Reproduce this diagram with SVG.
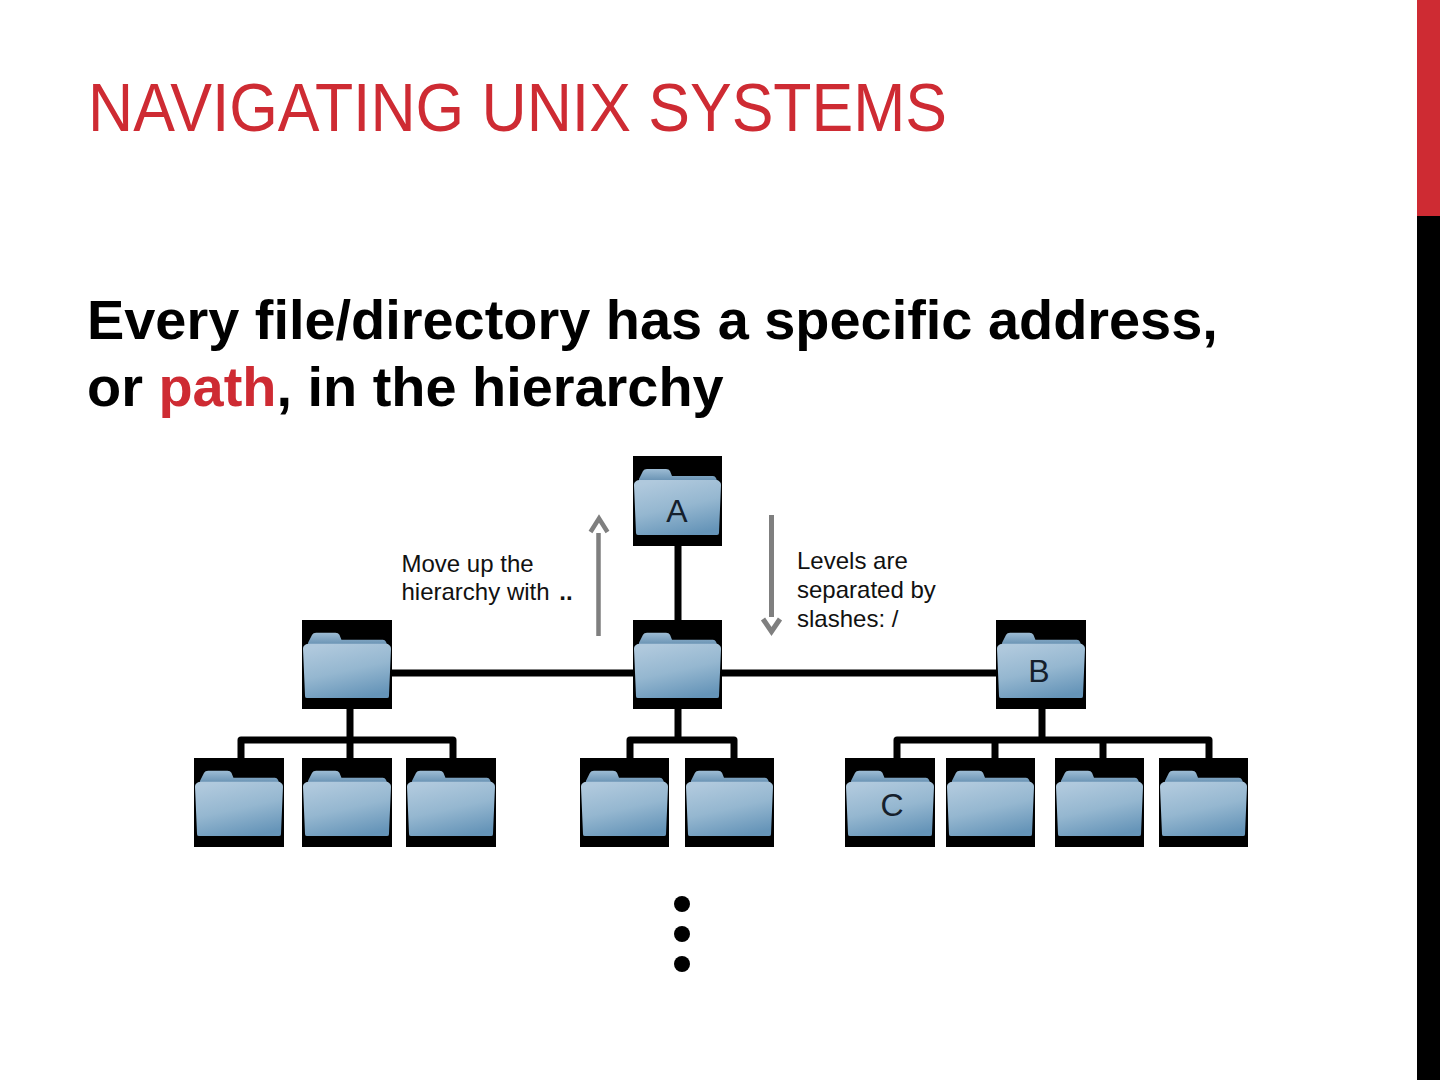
<svg xmlns="http://www.w3.org/2000/svg" width="1440" height="1080" viewBox="0 0 1440 1080">
<style>
.s{font-family:"Liberation Sans",Arial,sans-serif}
.t{font-family:"Liberation Sans Narrow","Liberation Sans",sans-serif;font-size:69px;fill:#ce2b33}
.h{font-size:55.9px;font-weight:700;fill:#000}
.n{font-size:24px;fill:#111}
.l{font-size:32px;fill:#15202c;text-anchor:middle}
.c{fill:none;stroke:#000;stroke-width:7;stroke-linejoin:round;stroke-linecap:round}
.a{fill:none;stroke:#7f7f7f;stroke-width:4.500}
.d{stroke-width:5}
</style>
<defs>
<linearGradient id="g" x1="0.3" y1="0" x2="0.65" y2="1"><stop offset="0" stop-color="#b0c9dd"/><stop offset="0.5" stop-color="#95b7d0"/><stop offset="1" stop-color="#6594b8"/></linearGradient>
<linearGradient id="b" x1="0" y1="0" x2="0" y2="1"><stop offset="0" stop-color="#9dbcd4"/><stop offset="1" stop-color="#5f8aad"/></linearGradient>
<symbol id="f" viewBox="0 0 89 90" preserveAspectRatio="none" overflow="visible">
<rect width="89" height="90" fill="#000"/>
<path d="M6 23 L10 15 Q11 13 14 13 L33 13 Q36 13 37 15 L39 20 L80 20 Q82 20 83 22 L85 27 L6 27Z" fill="url(#b)"/>
<path d="M6 24 L84 24 Q85 24 87 26 Q88 27 88 29 L86 77 Q86 79 84 79 L5 79 Q3 79 3 77 L1 29 Q1 27 2 26 Q4 24 6 24Z" fill="url(#g)"/>
</symbol>
</defs>
<rect width="1440" height="1080" fill="#fff"/>
<rect x="1417" width="23" height="1080" fill="#000"/>
<rect x="1417" width="23" height="216" fill="#ce2b33"/>
<text class="t" x="88" y="131" textLength="859" lengthAdjust="spacingAndGlyphs">NAVIGATING UNIX SYSTEMS</text>
<text class="s h" x="87" y="339">Every file/directory has a specific address,</text>
<text class="s h" x="87" y="406">or <tspan fill="#ce2b33">path</tspan>, in the hierarchy</text>
<g id="connectors">
<path class="c" d="M678 546V620M392 673H996"/>
<path class="c" d="M350 709V758M241 758V740H453V758"/>
<path class="c" d="M678 709V740M630 758V740H734V758"/>
<path class="c" d="M1042 709V740M897 758V740H1209V758M995 740V758M1103 740V758"/>
<path class="a" d="M598.500 636V533M590.500 532L599 518.500L607.500 532"/>
<path class="a d" d="M771.500 515V617M763 619L771.500 631.500L780 619"/>
</g>
<g id="node-a"><use href="#f" x="633" y="456" width="89" height="90"/><text class="s l" x="677" y="522">A</text></g>
<g id="node-p1"><use href="#f" x="302" y="620" width="90" height="89"/></g>
<g id="node-p2"><use href="#f" x="633" y="620" width="89" height="89"/></g>
<g id="node-b"><use href="#f" x="996" y="620" width="90" height="89"/><text class="s l" x="1039" y="682">B</text></g>
<g id="node-1"><use href="#f" x="194" y="758" width="90" height="89"/></g>
<g id="node-2"><use href="#f" x="302" y="758" width="90" height="89"/></g>
<g id="node-3"><use href="#f" x="406" y="758" width="90" height="89"/></g>
<g id="node-4"><use href="#f" x="580" y="758" width="89" height="89"/></g>
<g id="node-5"><use href="#f" x="685" y="758" width="89" height="89"/></g>
<g id="node-c"><use href="#f" x="845" y="758" width="90" height="89"/><text class="s l" x="892" y="816">C</text></g>
<g id="node-6"><use href="#f" x="946" y="758" width="89" height="89"/></g>
<g id="node-7"><use href="#f" x="1055" y="758" width="89" height="89"/></g>
<g id="node-8"><use href="#f" x="1159" y="758" width="89" height="89"/></g>
<g id="dots"><circle cx="682" cy="904" r="8"/><circle cx="682" cy="934" r="8"/><circle cx="682" cy="964" r="8"/></g>
<text class="s n" x="401.500" y="572">Move up the</text>
<text class="s n" x="401.500" y="600">hierarchy with <tspan font-weight="700" dx="3">..</tspan></text>
<text class="s n" x="797" y="569">Levels are</text>
<text class="s n" x="797" y="598">separated by</text>
<text class="s n" x="797" y="627">slashes: /</text>
</svg>
